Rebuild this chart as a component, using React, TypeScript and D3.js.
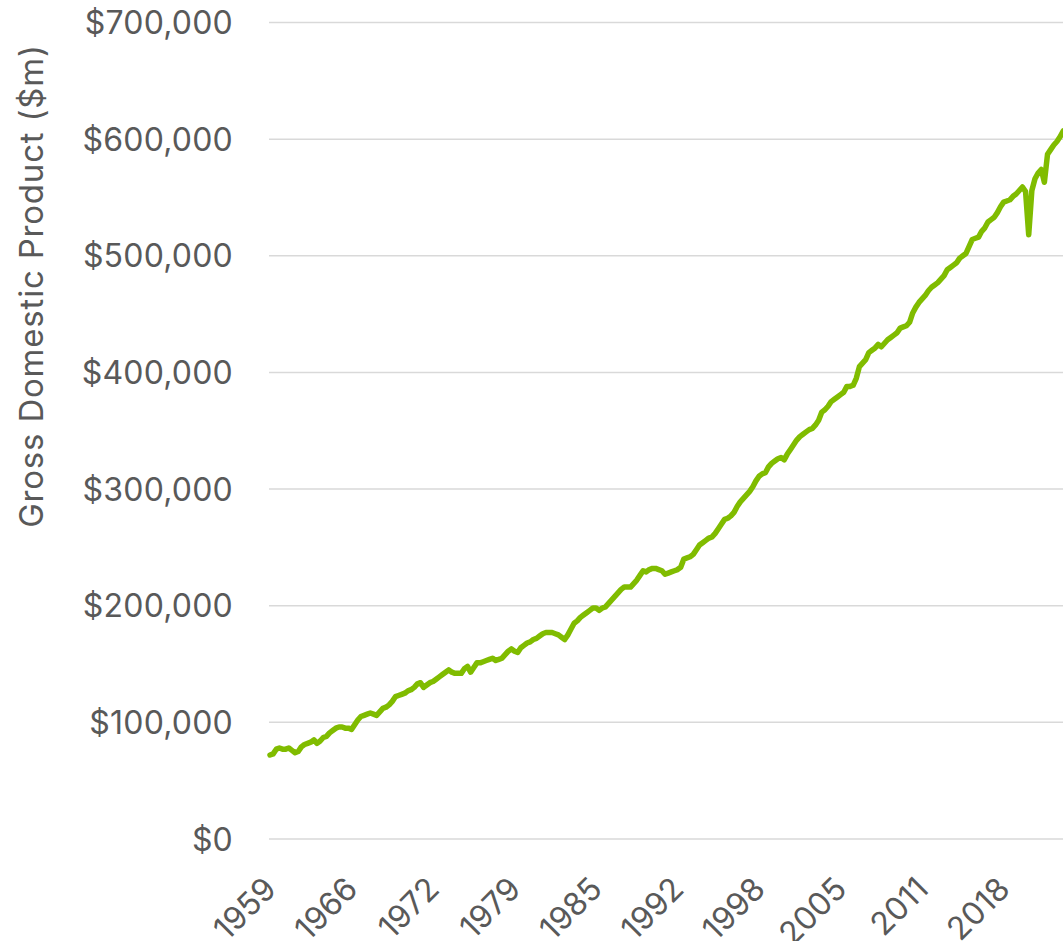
import * as d3 from "d3";
import { FC, useEffect, useRef } from "react";

// quarterly GDP, $'000m, Dec 1959 .. Mar 2023
const GDP: number[] = [
  72, 73, 77, 78, 77, 77, 78, 76, 74, 75,
  79, 81, 82, 83, 85, 82, 84, 87, 88, 91,
  93, 95, 96, 96, 95, 95, 94, 98, 102, 105,
  106, 107, 108, 107, 106, 109, 112, 113, 115, 118,
  122, 123, 124, 125, 127, 128, 130, 133, 134, 130,
  132, 134, 135, 137, 139, 141, 143, 145, 143, 142,
  142, 142, 146, 148, 143, 147, 151, 151, 152, 153,
  154, 155, 153, 154, 155, 158, 161, 163, 161, 160,
  164, 166, 168, 169, 171, 172, 174, 176, 177, 177,
  177, 176, 175, 173, 171, 175, 180, 185, 187, 190,
  192, 194, 196, 198, 198, 196, 198, 199, 202, 205,
  208, 211, 214, 216, 216, 216, 219, 222, 226, 230,
  229, 231, 232, 232, 231, 230, 227, 228, 229, 230,
  231, 233, 240, 241, 242, 244, 248, 252, 254, 256,
  258, 259, 262, 266, 270, 274, 275, 277, 280, 285,
  289, 292, 295, 298, 302, 307, 311, 313, 314, 319,
  322, 324, 326, 327, 325, 330, 334, 338, 342, 345,
  347, 349, 351, 352, 355, 359, 366, 368, 371, 375,
  377, 379, 381, 383, 388, 388, 389, 395, 405, 408,
  411, 417, 419, 421, 424, 422, 425, 428, 430, 432,
  434, 438, 439, 440, 443, 451, 456, 460, 463, 466,
  470, 473, 475, 477, 480, 483, 488, 490, 492, 494,
  498, 500, 502, 508, 514, 515, 516, 521, 524, 529,
  531, 533, 537, 542, 546, 547, 548, 551, 553, 556,
  559, 555, 518, 556, 566, 571, 574, 563, 587, 591,
  595, 598, 602, 607,
];

const START_YEAR = 1959;
const START_Q = 4; // December quarter
const TICK_LABELS: string[] = [
  "1959", "1966", "1972", "1979", "1985", "1992", "1998", "2005", "2011", "2018",
];
const TICK_EVERY = 26;
const Y_TICKS: number[] = [0, 100000, 200000, 300000, 400000, 500000, 600000, 700000];

const QUARTERS: string[] = GDP.map((_, i) => {
  const q = START_Q - 1 + i;
  return `${START_YEAR + Math.floor(q / 4)}-Q${(q % 4) + 1}`;
});

const WIDTH = 1063;
const HEIGHT = 941;
const FONT = "Inter, 'Liberation Sans', Arial, sans-serif";
const TEXT = "#595959";

const GdpChart: FC = () => {
  const ref = useRef<SVGSVGElement | null>(null);

  useEffect(() => {
    if (!ref.current) return;
    const svg = d3.select(ref.current);
    svg.selectAll("*").remove();

    const x = d3.scalePoint<string>().domain(QUARTERS).range([270, 1063.2]);
    const y = d3.scaleLinear().domain([0, 700000]).range([839, 22.5]);

    // gridlines
    svg
      .append("g")
      .selectAll("line")
      .data(Y_TICKS)
      .enter()
      .append("line")
      .attr("x1", 269)
      .attr("x2", WIDTH)
      .attr("y1", (d) => y(d))
      .attr("y2", (d) => y(d))
      .attr("stroke", "#d9d9d9")
      .attr("stroke-width", 1.5);

    // y labels
    svg
      .append("g")
      .selectAll("text")
      .data(Y_TICKS)
      .enter()
      .append("text")
      .attr("x", 233)
      .attr("y", (d) => y(d))
      .attr("dy", "0.36em")
      .attr("text-anchor", "end")
      .attr("font-family", FONT)
      .attr("font-size", 32)
      .attr("letter-spacing", 0.2)
      .attr("fill", TEXT)
      .text((d) => "$" + d3.format(",")(d));

    // x labels
    svg
      .append("g")
      .selectAll("text")
      .data(TICK_LABELS)
      .enter()
      .append("text")
      .attr("transform", (_, i) => {
        const tx = (x(QUARTERS[i * TICK_EVERY]) as number) + 8;
        return `translate(${tx},891) rotate(-45)`;
      })
      .attr("text-anchor", "end")
      .attr("font-family", FONT)
      .attr("font-size", 32)
      .attr("fill", TEXT)
      .text((d) => d);

    // axis title
    svg
      .append("text")
      .attr("transform", "translate(43,286) rotate(-90)")
      .attr("text-anchor", "middle")
      .attr("font-family", FONT)
      .attr("font-size", 33)
      .attr("letter-spacing", 0.8)
      .attr("fill", TEXT)
      .text("Gross Domestic Product ($m)");

    const line = d3
      .line<number>()
      .x((_, i) => x(QUARTERS[i]) as number)
      .y((d) => y(d * 1000));

    svg
      .append("path")
      .datum(GDP)
      .attr("d", line)
      .attr("fill", "none")
      .attr("stroke", "#80bc00")
      .attr("stroke-width", 5.5)
      .attr("stroke-linejoin", "round")
      .attr("stroke-linecap", "round");
  }, []);

  return (
    <svg
      ref={ref}
      width={WIDTH}
      height={HEIGHT}
      style={{ position: "absolute", left: 0, top: 0, background: "#fff" }}
    />
  );
};

export default function App() {
  return <GdpChart />;
}
